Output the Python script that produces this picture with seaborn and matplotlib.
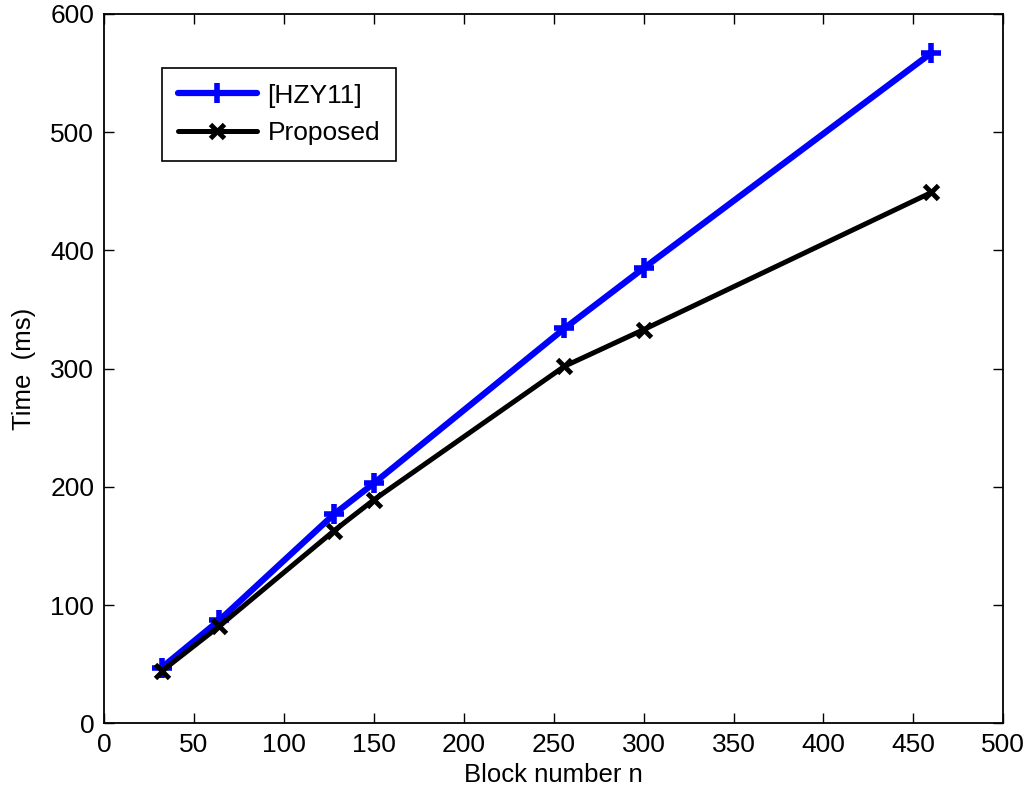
import matplotlib
matplotlib.use('Agg')
import matplotlib.pyplot as plt
import seaborn as sns
import pandas as pd

# data
block_n = [32, 64, 128, 150, 256, 300, 460]
time_hzy11 = [47, 87, 177, 203, 334, 385, 567]
time_proposed = [44, 82, 163, 189, 302, 333, 449]

sns.set_theme(style="white")
plt.rcParams['font.family'] = ['Liberation Sans', 'DejaVu Sans']
plt.rcParams['xtick.direction'] = 'in'
plt.rcParams['ytick.direction'] = 'in'
plt.rcParams['text.color'] = 'black'
plt.rcParams['axes.labelcolor'] = 'black'

df_a = pd.DataFrame({"n": block_n, "t": time_hzy11})
df_b = pd.DataFrame({"n": block_n, "t": time_proposed})

fig = plt.figure(figsize=(10.34, 7.95), dpi=100)
ax = fig.add_axes([0.1006, 0.0902, 0.8697, 0.8922])

sns.lineplot(data=df_a, x="n", y="t", ax=ax, color="#0000ff", linewidth=4.5,
             marker="+", markersize=15, markeredgewidth=4,
             markeredgecolor="#0000ff", label="[HZY11]")
sns.lineplot(data=df_b, x="n", y="t", ax=ax, color="black", linewidth=3.6,
             marker="x", markersize=10, markeredgewidth=3.5,
             markeredgecolor="black", label="Proposed")

ax.set_xlim(0, 500)
ax.set_ylim(0, 600)
ax.set_xticks(range(0, 501, 50))
ax.set_yticks(range(0, 601, 100))
ax.tick_params(labelsize=19, length=7, width=1, colors='black',
               top=True, right=True, bottom=True, left=True, pad=7)
ax.set_xlabel("Block number n", fontsize=18.5, labelpad=4)
ax.set_ylabel("Time  (ms)", fontsize=18.5, labelpad=10)
for s in ax.spines.values():
    s.set_visible(True)
    s.set_color('black')
    s.set_linewidth(1.3)

leg = ax.legend(loc='upper left', bbox_to_anchor=(0.0645, 0.924), borderaxespad=0,
                fontsize=19, handlelength=3.0, fancybox=False, edgecolor='black',
                framealpha=1, borderpad=0.6, labelspacing=0.5, handletextpad=0.4)
leg.get_frame().set_linewidth(1.2)

fig.savefig("out.png", dpi=100)
